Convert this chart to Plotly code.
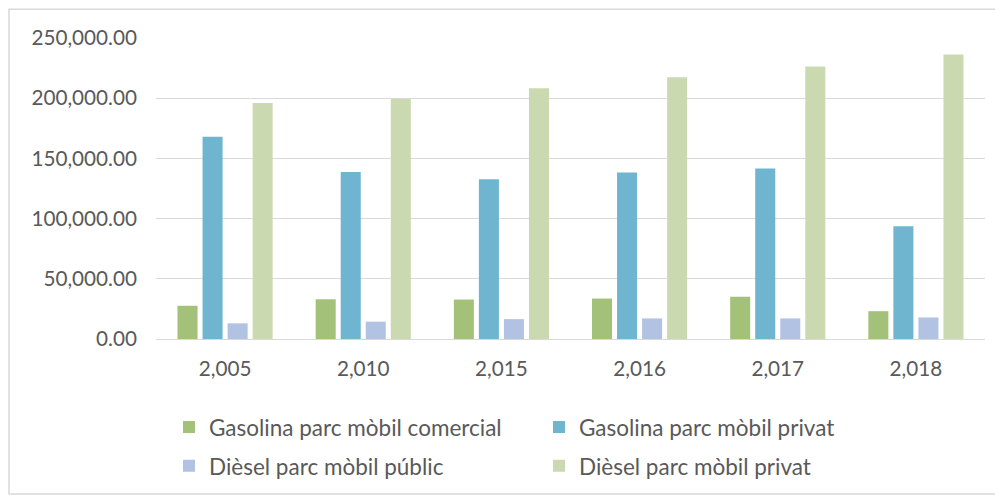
import plotly.graph_objects as go

years = ["2,005", "2,010", "2,015", "2,016", "2,017", "2,018"]
gas_comercial = [27600, 33000, 32800, 33600, 35000, 23100]
gas_privat = [168000, 138800, 132700, 138300, 141600, 93700]
diesel_public = [13000, 14400, 16500, 17100, 17100, 17900]
diesel_privat = [196000, 199400, 208200, 217500, 226300, 236200]

names = ["Gasolina parc mòbil comercial", "Gasolina parc mòbil privat",
         "Dièsel parc mòbil públic", "Dièsel parc mòbil privat"]
colors = ["#A3C179", "#6FB5D0", "#B2C2E2", "#CBD9B0"]
legends = ["legend", "legend", "legend2", "legend2"]
series = [gas_comercial, gas_privat, diesel_public, diesel_privat]

fig = go.Figure()
for n, c, lg, s in zip(names, colors, legends, series):
    fig.add_trace(go.Bar(x=years, y=s, name=n, marker=dict(color=c, line=dict(width=0)),
                         legend=lg))

OFF = 8  # page body margin
W, H = 1003 - OFF, 500 - OFF
# plot area in reference page pixels
X0, X1, Y0, Y1 = 156, 985, 38, 341
L, R, T = X0 - OFF, W - (X1 - OFF), Y0 - OFF
B = H - (Y1 - OFF)
pw, ph = X1 - X0, Y1 - Y0

def px(x):
    return (x - X0) / pw

def py(y):
    return (Y1 - y) / ph

font = dict(family="Lato, 'Open Sans', sans-serif", size=20.7, color="#595959")
lfont = dict(family="Lato, 'Open Sans', sans-serif", size=22.5, color="#595959")

fig.update_layout(
    width=W, height=H,
    margin=dict(l=L, r=R, t=T, b=B),
    paper_bgcolor="white", plot_bgcolor="white",
    barmode="group", bargap=0.275, bargroupgap=0.2,
    font=font,
    xaxis=dict(type="category", showgrid=False, showline=True, linecolor="#D9D9D9",
               linewidth=1, ticks="", tickfont=font, ticklabelstandoff=11),
    yaxis=dict(range=[0, 250000], dtick=50000, tickformat=",.2f", showgrid=True,
               gridcolor="#D9D9D9", gridwidth=1, zeroline=False, showline=False,
               tickfont=font, ticklabelstandoff=18),
    legend=dict(orientation="h", x=px(169), y=py(430), xanchor="left", yanchor="middle",
                entrywidth=325, entrywidthmode="pixels", font=lfont,
                bgcolor="rgba(0,0,0,0)", itemclick=False),
    legend2=dict(orientation="h", x=px(169), y=py(469), xanchor="left", yanchor="middle",
                 entrywidth=325, entrywidthmode="pixels", font=lfont,
                 bgcolor="rgba(0,0,0,0)", itemclick=False),
    shapes=[dict(type="rect", xref="paper", yref="paper",
                 x0=px(9), x1=px(1020), y0=py(497), y1=py(9),
                 line=dict(color="#D9D9D9", width=1.5), fillcolor="rgba(0,0,0,0)",
                 layer="below")],
)

fig.write_html("out.html")
